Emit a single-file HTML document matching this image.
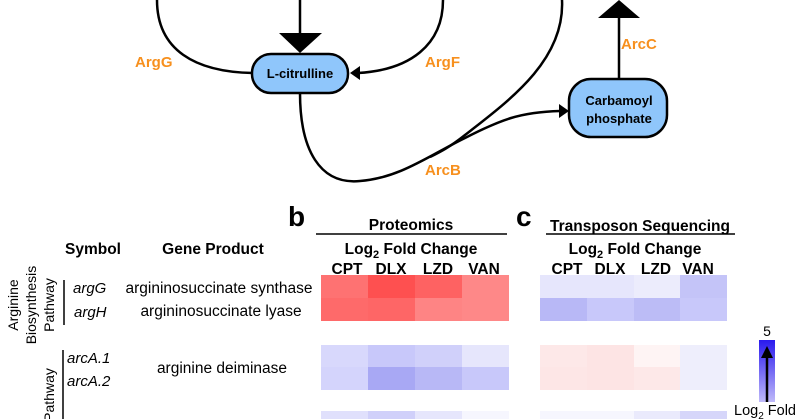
<!DOCTYPE html>
<html><head><meta charset="utf-8"><style>
html,body{margin:0;padding:0;background:#fff;}
svg{display:block;font-family:"Liberation Sans",Arial,sans-serif;}
.o{fill:#f7901e;font-weight:bold;font-size:15px;}
.h{font-weight:bold;font-size:15.5px;}
.t{font-size:15.5px;}
.i{font-size:15px;font-style:italic;}
</style></head><body>
<svg width="800" height="419" viewBox="0 0 800 419" xmlns="http://www.w3.org/2000/svg">
<g fill="none" stroke="#000" stroke-width="2.5">
<path d="M157,0 C157,50 195,72 253,73"/>
<path d="M443,0 C443,45 410,70 358,73"/>
<path d="M300,0 L300,34"/>
<path d="M562,0 C565,60 510,100 465,135 C450,147 440,152 430,157"/>
<path d="M300,93 C300,150 320,185 360,181 C400,178 430,155 465,138 C500,120 520,112 560,111"/>
<path d="M619,78 L619,17"/>
</g>
<polygon points="279,33 322,33 300,53" fill="#000"/>
<polygon points="350,73 360,66 360,80" fill="#000"/>
<polygon points="569,111 559,104 559,118" fill="#000"/>
<polygon points="598,18 640,18 619,0" fill="#000"/>
<rect x="252" y="54" width="96" height="39" rx="19" fill="#8fc6fb" stroke="#000" stroke-width="2.5"/>
<text x="300" y="78" text-anchor="middle" font-weight="bold" font-size="13">L-citrulline</text>
<rect x="569" y="79" width="98" height="58" rx="22" fill="#8fc6fb" stroke="#000" stroke-width="2.5"/>
<text x="619" y="105" text-anchor="middle" font-weight="bold" font-size="13">Carbamoyl</text>
<text x="619" y="123" text-anchor="middle" font-weight="bold" font-size="13">phosphate</text>
<text class="o" x="135" y="67">ArgG</text>
<text class="o" x="425" y="67">ArgF</text>
<text class="o" x="425" y="175">ArcB</text>
<text class="o" x="621" y="49">ArcC</text>

<text x="288" y="226" font-weight="bold" font-size="28">b</text>
<text class="h" x="411" y="230" text-anchor="middle">Proteomics</text>
<line x1="316" y1="234" x2="507" y2="234" stroke="#000" stroke-width="1.5"/>
<text class="h" x="411" y="254" text-anchor="middle">Log<tspan font-size="11" dy="4">2</tspan><tspan dy="-4"> Fold Change</tspan></text>
<g class="h" text-anchor="middle"><text x="347" y="274">CPT</text><text x="391" y="274">DLX</text><text x="438" y="274">LZD</text><text x="484" y="274">VAN</text></g>
<text class="h" x="93" y="254" text-anchor="middle">Symbol</text>
<text class="h" x="213" y="254" text-anchor="middle">Gene Product</text>

<g transform="translate(321,0)">
<rect x="0" y="275" width="47" height="23" fill="#fe7272"/><rect x="47" y="275" width="47" height="23" fill="#fe5050"/><rect x="94" y="275" width="47" height="23" fill="#fe6262"/><rect x="141" y="275" width="47" height="23" fill="#fe8888"/>
<rect x="0" y="298" width="47" height="23" fill="#fe6a6a"/><rect x="47" y="298" width="47" height="23" fill="#fe6666"/><rect x="94" y="298" width="47" height="23" fill="#fe8484"/><rect x="141" y="298" width="47" height="23" fill="#fe8888"/>
<rect x="0" y="345" width="47" height="22" fill="#d8d8fc"/><rect x="47" y="345" width="47" height="22" fill="#c8c8fa"/><rect x="94" y="345" width="47" height="22" fill="#d0d0fa"/><rect x="141" y="345" width="47" height="22" fill="#e6e6fc"/>
<rect x="0" y="367" width="47" height="23" fill="#d4d4fc"/><rect x="47" y="367" width="47" height="23" fill="#a8a8f4"/><rect x="94" y="367" width="47" height="23" fill="#b8b8f6"/><rect x="141" y="367" width="47" height="23" fill="#c8c8fa"/>
<rect x="0" y="411" width="47" height="8" fill="#e0e0fc"/><rect x="47" y="411" width="47" height="8" fill="#d0d0fa"/><rect x="94" y="411" width="47" height="8" fill="#e6e6fc"/><rect x="141" y="411" width="47" height="8" fill="#f6f6fe"/>
</g>

<text class="i" x="73" y="293">argG</text>
<text class="i" x="74" y="317">argH</text>
<text class="i" x="67" y="363">arcA.1</text>
<text class="i" x="67" y="386">arcA.2</text>
<text class="t" x="219" y="293" text-anchor="middle">argininosuccinate synthase</text>
<text class="t" x="221" y="316" text-anchor="middle">argininosuccinate lyase</text>
<text class="t" x="222" y="373" text-anchor="middle">arginine deiminase</text>
<line x1="64" y1="280" x2="64" y2="325" stroke="#000" stroke-width="1.5"/>
<line x1="63" y1="350" x2="63" y2="419" stroke="#000" stroke-width="1.5"/>
<g font-size="14" text-anchor="middle">
<text transform="translate(18,305) rotate(-90)">Arginine</text>
<text transform="translate(36,305) rotate(-90)">Biosynthesis</text>
<text transform="translate(54,305) rotate(-90)">Pathway</text>
<text transform="translate(54,395) rotate(-90)">Pathway</text>
</g>

<text x="516" y="226" font-weight="bold" font-size="28">c</text>
<text class="h" x="640" y="231" text-anchor="middle">Transposon Sequencing</text>
<line x1="546" y1="234" x2="735" y2="234" stroke="#000" stroke-width="1.5"/>
<text class="h" x="635" y="254" text-anchor="middle">Log<tspan font-size="11" dy="4">2</tspan><tspan dy="-4"> Fold Change</tspan></text>
<g class="h" text-anchor="middle"><text x="567" y="274">CPT</text><text x="610" y="274">DLX</text><text x="656" y="274">LZD</text><text x="698" y="274">VAN</text></g>
<g transform="translate(540,0)">
<rect x="0" y="275" width="47" height="23" fill="#e6e6fc"/><rect x="47" y="275" width="47" height="23" fill="#e6e6fc"/><rect x="94" y="275" width="46" height="23" fill="#ececfc"/><rect x="140" y="275" width="47" height="23" fill="#c4c4f8"/>
<rect x="0" y="298" width="47" height="23" fill="#b8b8f6"/><rect x="47" y="298" width="47" height="23" fill="#c8c8fa"/><rect x="94" y="298" width="46" height="23" fill="#bcbcf6"/><rect x="140" y="298" width="47" height="23" fill="#c8c8fa"/>
<rect x="0" y="345" width="47" height="22" fill="#fde8e8"/><rect x="47" y="345" width="47" height="22" fill="#fde4e4"/><rect x="94" y="345" width="46" height="22" fill="#fef4f4"/><rect x="140" y="345" width="47" height="22" fill="#eeeefc"/>
<rect x="0" y="367" width="47" height="23" fill="#fde6e6"/><rect x="47" y="367" width="47" height="23" fill="#fde4e4"/><rect x="94" y="367" width="46" height="23" fill="#fde8e8"/><rect x="140" y="367" width="47" height="23" fill="#eeeefc"/>
<rect x="0" y="411" width="47" height="8" fill="#f6f6fe"/><rect x="47" y="411" width="47" height="8" fill="#f6f6fe"/><rect x="94" y="411" width="46" height="8" fill="#eaeafc"/><rect x="140" y="411" width="47" height="8" fill="#d6d6fa"/>
</g>
<defs><linearGradient id="cb" x1="0" y1="0" x2="0" y2="1"><stop offset="0" stop-color="#2a1aee"/><stop offset="1" stop-color="#e8e6fc"/></linearGradient></defs>
<rect x="759" y="340" width="16" height="79" fill="url(#cb)"/>
<text x="767" y="336" text-anchor="middle" font-size="14">5</text>
<line x1="767" y1="404" x2="767" y2="355" stroke="#000" stroke-width="2.5"/>
<polygon points="761,358 773,358 767,346" fill="#000"/>
<rect x="733" y="402" width="67" height="17" fill="#fff"/>
<text x="734" y="415" font-size="14.5">Log<tspan font-size="10" dy="4">2</tspan><tspan dy="-4"> Fold</tspan></text>
</svg>
</body></html>
